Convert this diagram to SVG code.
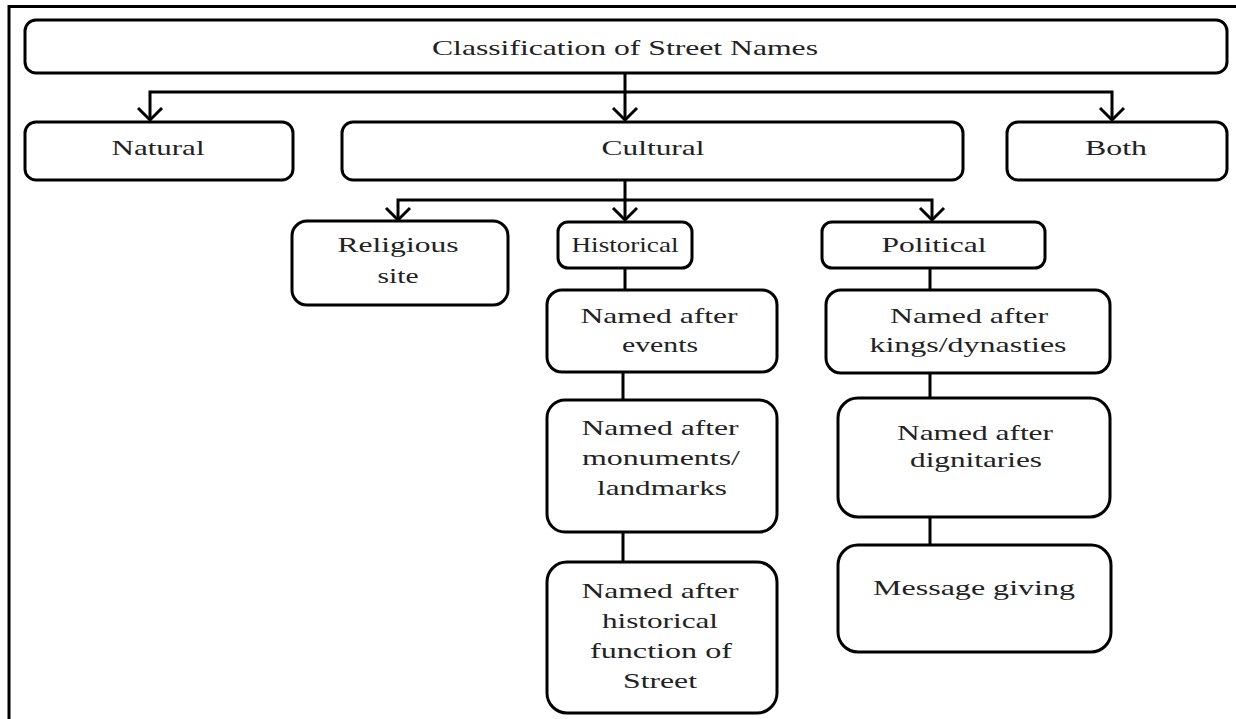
<svg xmlns="http://www.w3.org/2000/svg" width="1236" height="719" viewBox="0 0 1236 719">
<style>
.box{fill:#fff;stroke:#000;stroke-width:3}
.t{font-family:"Liberation Serif","Times New Roman",serif;font-size:22px;fill:#222;text-anchor:middle}
.c{fill:none;stroke:#000;stroke-width:3}
.ah{fill:none;stroke:#000;stroke-width:3;stroke-linejoin:miter}
</style>
<rect width="1236" height="719" fill="#fff"/>
<g id="frame"><path class="c" d="M9 719 V6.5 H1236"/></g>
<g id="connectors">
<path class="c" d="M625 73 V120 M150 120 V92 H1112 V120"/>
<path class="ah" d="M138 108 L150 120 L162 108 M613 108 L625 120 L637 108 M1100 108 L1112 120 L1124 108"/>
<path class="c" d="M625 180 V220 M398 220 V200 H932 V220"/>
<path class="ah" d="M386 208 L398 220 L410 208 M613 208 L625 220 L637 208 M920 208 L932 220 L944 208"/>
<path class="c" d="M625 268 V290 M623 372 V400 M623 532 V562 M930 268 V290 M930 373 V398 M930 517 V545"/>
</g>
<g id="n-root"><rect class="box" x="25" y="20" width="1202" height="53" rx="11"/><text class="t" x="625" y="55" textLength="386" lengthAdjust="spacingAndGlyphs">Classification of Street Names</text></g>
<g id="n-natural"><rect class="box" x="25" y="122" width="268" height="58" rx="11"/><text class="t" x="158" y="155" textLength="93" lengthAdjust="spacingAndGlyphs">Natural</text></g>
<g id="n-cultural"><rect class="box" x="342" y="122" width="621" height="58" rx="11"/><text class="t" x="653" y="155" textLength="103" lengthAdjust="spacingAndGlyphs">Cultural</text></g>
<g id="n-both"><rect class="box" x="1007" y="122" width="220" height="58" rx="11"/><text class="t" x="1116" y="155" textLength="62" lengthAdjust="spacingAndGlyphs">Both</text></g>
<g id="n-religious"><rect class="box" x="292" y="221" width="216" height="84" rx="15"/><text class="t" x="398" y="252" textLength="121" lengthAdjust="spacingAndGlyphs">Religious</text><text class="t" x="398" y="283" textLength="41" lengthAdjust="spacingAndGlyphs">site</text></g>
<g id="n-historical"><rect class="box" x="558" y="222" width="134" height="46" rx="10"/><text class="t" x="625" y="252" textLength="107" lengthAdjust="spacingAndGlyphs">Historical</text></g>
<g id="n-political"><rect class="box" x="822" y="222" width="223" height="46" rx="10"/><text class="t" x="934" y="252" textLength="105" lengthAdjust="spacingAndGlyphs">Political</text></g>
<g id="n-events"><rect class="box" x="547" y="290" width="230" height="82" rx="15"/><text class="t" x="659" y="323" textLength="157" lengthAdjust="spacingAndGlyphs">Named after</text><text class="t" x="660" y="352" textLength="76" lengthAdjust="spacingAndGlyphs">events</text></g>
<g id="n-monuments"><rect class="box" x="547" y="400" width="230" height="132" rx="18"/><text class="t" x="660" y="435" textLength="157" lengthAdjust="spacingAndGlyphs">Named after</text><text class="t" x="661" y="465" textLength="158" lengthAdjust="spacingAndGlyphs">monuments/</text><text class="t" x="662" y="495" textLength="130" lengthAdjust="spacingAndGlyphs">landmarks</text></g>
<g id="n-function"><rect class="box" x="547" y="562" width="230" height="151" rx="20"/><text class="t" x="660" y="598" textLength="157" lengthAdjust="spacingAndGlyphs">Named after</text><text class="t" x="660" y="628" textLength="116" lengthAdjust="spacingAndGlyphs">historical</text><text class="t" x="661" y="658" textLength="142" lengthAdjust="spacingAndGlyphs">function of</text><text class="t" x="660" y="688" textLength="74" lengthAdjust="spacingAndGlyphs">Street</text></g>
<g id="n-kings"><rect class="box" x="826" y="290" width="284" height="83" rx="15"/><text class="t" x="969" y="323" textLength="158" lengthAdjust="spacingAndGlyphs">Named after</text><text class="t" x="968" y="352" textLength="197" lengthAdjust="spacingAndGlyphs">kings/dynasties</text></g>
<g id="n-dignitaries"><rect class="box" x="838" y="398" width="272" height="119" rx="20"/><text class="t" x="975" y="440" textLength="156" lengthAdjust="spacingAndGlyphs">Named after</text><text class="t" x="976" y="467" textLength="132" lengthAdjust="spacingAndGlyphs">dignitaries</text></g>
<g id="n-message"><rect class="box" x="838" y="545" width="273" height="107" rx="20"/><text class="t" x="974" y="595" textLength="202" lengthAdjust="spacingAndGlyphs">Message giving</text></g>
</svg>
